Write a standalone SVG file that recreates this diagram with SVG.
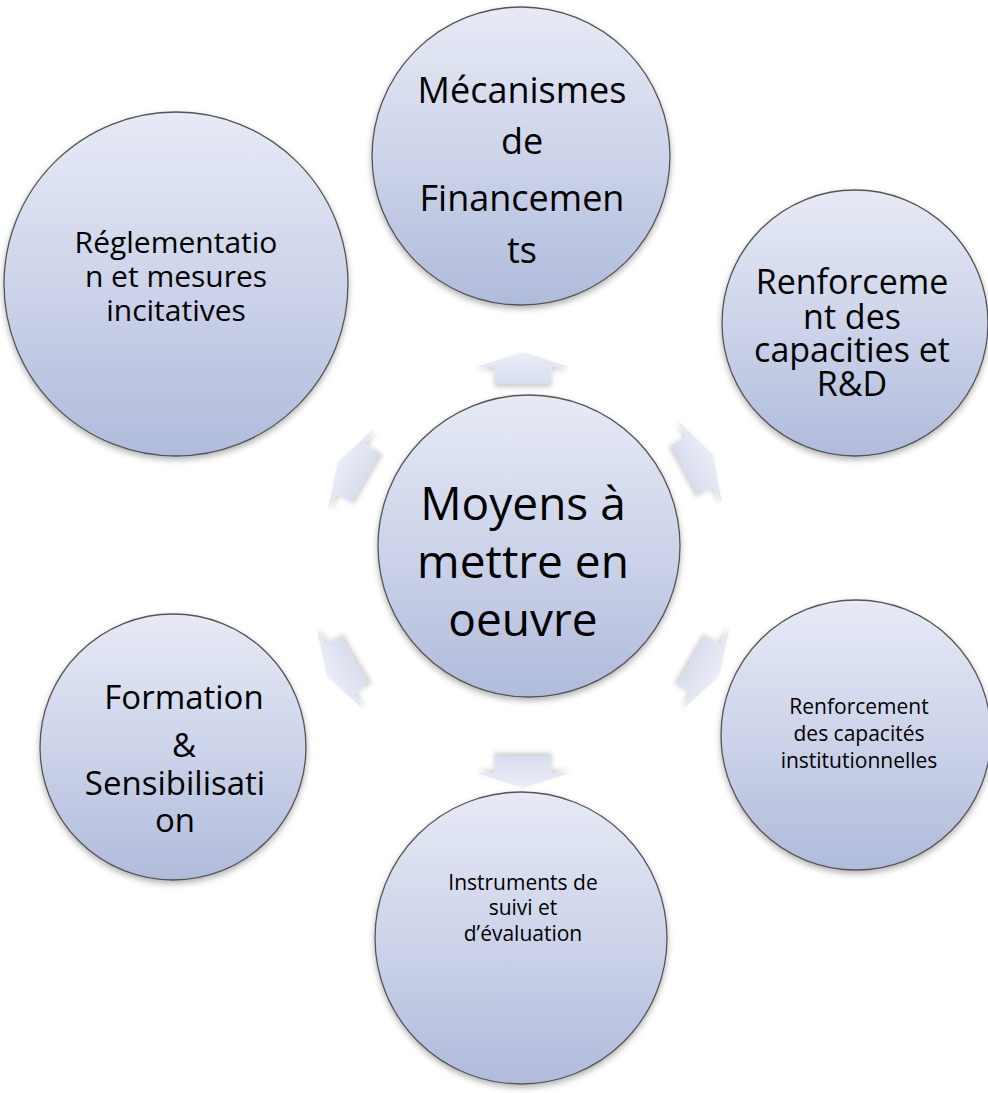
<svg xmlns="http://www.w3.org/2000/svg" width="988" height="1093" viewBox="0 0 988 1093">
<defs>
<linearGradient id="cg" x1="0" y1="0" x2="0" y2="1">
<stop offset="0" stop-color="#e7eaf5"/>
<stop offset="0.5" stop-color="#cdd4ea"/>
<stop offset="1" stop-color="#b0bbdb"/>
</linearGradient>
<linearGradient id="ag" x1="0" y1="0" x2="0" y2="1">
<stop offset="0" stop-color="#eceef7"/>
<stop offset="1" stop-color="#d8ddee"/>
</linearGradient>
<filter id="sh" x="-20%" y="-20%" width="140%" height="140%">
<feDropShadow dx="0" dy="3" stdDeviation="3" flood-color="#000" flood-opacity="0.3"/>
</filter>
<filter id="ash" x="-30%" y="-30%" width="160%" height="160%">
<feDropShadow dx="0" dy="3" stdDeviation="2.5" flood-color="#000" flood-opacity="0.2"/>
</filter>
<polygon id="arr" points="0,-15 46.5,0 28.5,0 28.5,17 -28.5,17 -28.5,0 -46.5,0"/>
</defs>
<style>
.c{fill:url(#cg);stroke:#555;stroke-width:1.3;filter:url(#sh)}
.a{fill:url(#ag);filter:url(#ash)}
text{font-family:"Open Sans","Noto Sans",sans-serif;fill:#000;text-anchor:middle}
</style>
<rect width="988" height="1093" fill="#fff"/>
<g id="connectors">
<use href="#arr" class="a" transform="translate(523,367)"/>
<use href="#arr" class="a" transform="translate(700,462) rotate(62)"/>
<use href="#arr" class="a" transform="translate(351,469) rotate(-60)"/>
<use href="#arr" class="a" transform="translate(340,669) rotate(-120)"/>
<use href="#arr" class="a" transform="translate(706,669) rotate(120)"/>
<use href="#arr" class="a" transform="translate(523,773) rotate(180)"/>
</g>
<g id="top">
<circle class="c" cx="521" cy="156" r="149"/>
<text font-size="36"><tspan x="522" y="103">Mécanismes</tspan><tspan x="522" y="154">de</tspan><tspan x="522" y="211">Financemen</tspan><tspan x="522" y="263">ts</tspan></text>
</g>
<g id="left">
<circle class="c" cx="176" cy="284" r="172"/>
<text font-size="30"><tspan x="176" y="253">Réglementatio</tspan><tspan x="176" y="287">n et mesures</tspan><tspan x="176" y="321">incitatives</tspan></text>
</g>
<g id="rightTop">
<circle class="c" cx="855" cy="323" r="133"/>
<text font-size="34"><tspan x="852" y="294">Renforceme</tspan><tspan x="852" y="329">nt des</tspan><tspan x="852" y="362">capacities et</tspan><tspan x="852" y="396">R&amp;D</tspan></text>
</g>
<g id="center">
<circle class="c" cx="529" cy="546" r="151"/>
<text font-size="46"><tspan x="523" y="520">Moyens à</tspan><tspan x="523" y="578">mettre en</tspan><tspan x="523" y="636">oeuvre</tspan></text>
</g>
<g id="leftBottom">
<circle class="c" cx="173" cy="747" r="133"/>
<text font-size="33"><tspan x="184" y="709">Formation</tspan><tspan x="184" y="757">&amp;</tspan><tspan x="175" y="795">Sensibilisati</tspan><tspan x="175" y="832">on</tspan></text>
</g>
<g id="rightBottom">
<circle class="c" cx="856" cy="735" r="135"/>
<text font-size="21"><tspan x="859" y="714">Renforcement</tspan><tspan x="859" y="741">des capacités</tspan><tspan x="859" y="768">institutionnelles</tspan></text>
</g>
<g id="bottom">
<circle class="c" cx="521" cy="938" r="146"/>
<text font-size="21"><tspan x="523" y="890">Instruments de</tspan><tspan x="523" y="915">suivi  et</tspan><tspan x="523" y="941">d’évaluation</tspan></text>
</g>
</svg>
